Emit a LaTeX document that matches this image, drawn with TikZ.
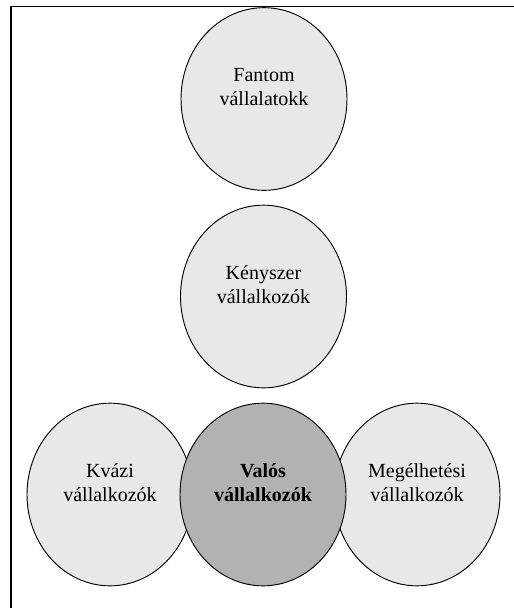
\documentclass[tikz,border=0pt]{standalone}
\usepackage{fontspec}
\setmainfont{Liberation Serif}
\usepackage{tikz}
\usetikzlibrary{shapes.geometric}
\definecolor{bubblefill}{HTML}{E8E8E8}
\definecolor{corefill}{HTML}{B2B2B2}

\begin{document}
\begin{tikzpicture}[x=0.75pt, y=-0.75pt,
    bubble/.style={draw=black, line width=0.7pt, fill=bubblefill, ellipse, inner sep=0pt, minimum width=124.5pt, minimum height=137pt},
    bubbletext/.style={font=\fontsize{15}{18}\selectfont, align=center, inner sep=0pt}]
    \useasboundingbox (0,0) rectangle (514,608);
    \draw[line width=1.1pt] (11,608) -- (11,6.5) -- (514,6.5);
    \node[bubble] (fantom) at (264,99) {};
    \node[bubble] (kenyszer) at (263.5,296.5) {};
    \node[bubble] (kvazi) at (110,494.5) {};
    \node[bubble] (megelhetesi) at (417,494.5) {};
    \node[bubble, fill=corefill] (valos) at (263,494.5) {};
    \node[bubbletext] (fantom-t) at ([yshift=9pt]fantom.center) {Fantom\\vállalatokk};
    \node[bubbletext] (kenyszer-t) at ([yshift=9pt]kenyszer.center) {Kényszer\\vállalkozók};
    \node[bubbletext] (kvazi-t) at ([yshift=9pt]kvazi.center) {Kvázi\\vállalkozók};
    \node[bubbletext] (megelhetesi-t) at ([yshift=9pt]megelhetesi.center) {Megélhetési\\vállalkozók};
    \node[bubbletext, font=\fontsize{15}{18}\selectfont\bfseries] (valos-t) at ([yshift=9pt]valos.center) {Valós\\vállalkozók};
\end{tikzpicture}
\end{document}
